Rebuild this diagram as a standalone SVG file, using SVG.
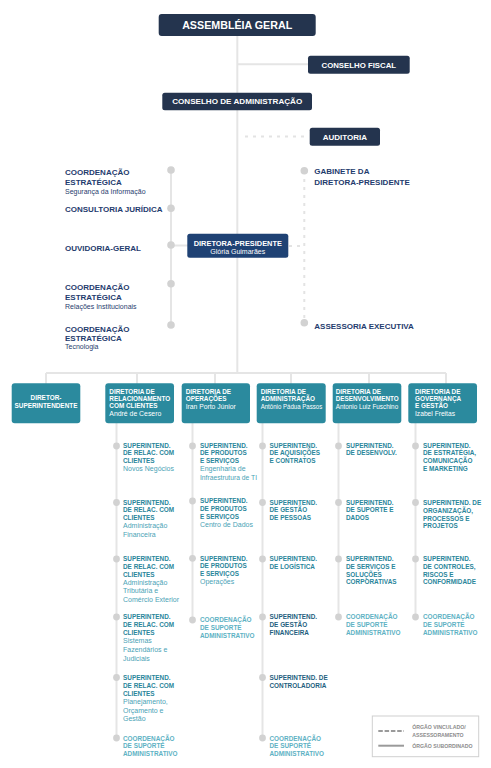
<svg xmlns="http://www.w3.org/2000/svg" width="491" height="768" viewBox="0 0 491 768">
<style>
text{font-family:"Liberation Sans",Arial,sans-serif}
.ln{stroke:#e5e5e5;stroke-width:2;fill:none}
.dash{stroke:#e3e3e3;stroke-width:2;fill:none;stroke-dasharray:3 5}
.dot{fill:#d2d2d2}
.nv{fill:#24344e}
.dp{fill:#1f4274}
.tl{fill:#2b8a9e}
.wt{fill:#fff;font-weight:bold}
.wn{fill:#fff;font-size:7px}
.st{fill:#1f3c6e;font-weight:bold;font-size:8px}
.sts{fill:#1f3c6e;font-size:7px}
.db{fill:#fff;font-weight:bold;font-size:6.4px}
.dn{fill:#fff;font-size:7px}
.it{fill:#2a869b;font-weight:bold;font-size:6.4px}
.it2{fill:#1f5f80;font-weight:bold;font-size:6.4px}
.co{fill:#5eb2c4;font-weight:bold;font-size:6.4px}
.s{fill:#4aa3b6;font-weight:normal;font-size:7px}
.lg{fill:#8c8c8c;font-weight:bold;font-size:5.2px}
</style>

<g id="connectors">
  <line class="ln" x1="237.3" y1="36" x2="237.3" y2="373"/>
  <line class="ln" x1="237.3" y1="64.3" x2="308" y2="64.3"/>
  <line class="dash" x1="245" y1="136.5" x2="309" y2="136.5"/>
  <line class="ln" x1="171" y1="170" x2="171" y2="325"/>
  <line class="ln" x1="171" y1="245.5" x2="188" y2="245.5"/>
  <line class="dash" x1="304.3" y1="171" x2="304.3" y2="323"/>
  <line class="dash" x1="289" y1="246" x2="304" y2="246"/>
  <line class="ln" x1="46" y1="373" x2="446" y2="373"/>
  <line class="ln" x1="46" y1="373" x2="46" y2="384"/>
  <line class="ln" x1="137" y1="373" x2="137" y2="384"/>
  <line class="ln" x1="215" y1="373" x2="215" y2="384"/>
  <line class="ln" x1="291" y1="373" x2="291" y2="384"/>
  <line class="ln" x1="369" y1="373" x2="369" y2="384"/>
  <line class="ln" x1="446" y1="373" x2="446" y2="384"/>
  <line class="ln" x1="116.5" y1="423" x2="116.5" y2="740"/>
  <line class="ln" x1="192.5" y1="423" x2="192.5" y2="620"/>
  <line class="ln" x1="262.5" y1="423" x2="262.5" y2="740"/>
  <line class="ln" x1="338.5" y1="423" x2="338.5" y2="617"/>
  <line class="ln" x1="415.5" y1="423" x2="415.5" y2="617"/>
</g>

<g id="assembleia">
  <rect class="nv" x="158.7" y="14" width="157" height="22" rx="3"/>
  <text class="wt" x="237.2" y="29" font-size="10.7" text-anchor="middle">ASSEMBLÉIA GERAL</text>
</g>
<g id="conselho-fiscal">
  <rect class="nv" x="308" y="55.7" width="101.7" height="18" rx="2.5"/>
  <text class="wt" x="358.8" y="68.3" font-size="7.8" text-anchor="middle">CONSELHO FISCAL</text>
</g>
<g id="conselho-adm">
  <rect class="nv" x="162.3" y="92.7" width="149.7" height="17.5" rx="2.5"/>
  <text class="wt" x="237.2" y="104.3" font-size="8.1" text-anchor="middle">CONSELHO DE ADMINISTRAÇÃO</text>
</g>
<g id="auditoria">
  <rect class="nv" x="309.7" y="127.7" width="70.3" height="18" rx="2.5"/>
  <text class="wt" x="344.8" y="139.7" font-size="8" text-anchor="middle">AUDITORIA</text>
</g>

<g id="staff-left">
  <circle class="dot" cx="171" cy="170" r="3.8"/>
  <circle class="dot" cx="171" cy="208.3" r="3.8"/>
  <circle class="dot" cx="171" cy="245" r="3.8"/>
  <circle class="dot" cx="171" cy="283.7" r="3.8"/>
  <circle class="dot" cx="171" cy="325" r="3.8"/>
  <text x="65" y="175.3"><tspan class="st" x="65">COORDENAÇÃO</tspan><tspan class="st" x="65" y="185">ESTRATÉGICA</tspan><tspan class="sts" x="65" y="193.8">Segurança da Informação</tspan></text>
  <text class="st" x="65" y="211.7">CONSULTORIA JURÍDICA</text>
  <text class="st" x="65" y="250.7">OUVIDORIA-GERAL</text>
  <text x="65" y="290"><tspan class="st" x="65">COORDENAÇÃO</tspan><tspan class="st" x="65" y="300">ESTRATÉGICA</tspan><tspan class="sts" x="65" y="309.3">Relações Institucionais</tspan></text>
  <text x="65" y="331.7"><tspan class="st" x="65">COORDENAÇÃO</tspan><tspan class="st" x="65" y="340.7">ESTRATÉGICA</tspan><tspan class="sts" x="65" y="349.3">Tecnologia</tspan></text>
</g>

<g id="staff-right">
  <circle class="dot" cx="304.3" cy="170.7" r="3.8"/>
  <circle class="dot" cx="304.3" cy="322.7" r="3.8"/>
  <text x="314.3" y="174.3"><tspan class="st" x="314.3">GABINETE DA</tspan><tspan class="st" x="314.3" y="185">DIRETORA-PRESIDENTE</tspan></text>
  <text class="st" x="314.3" y="329">ASSESSORIA EXECUTIVA</text>
</g>

<g id="diretora-presidente">
  <rect class="dp" x="187.3" y="233.7" width="101" height="24" rx="2.5"/>
  <text class="wt" x="237.8" y="246" font-size="7.4" text-anchor="middle">DIRETORA-PRESIDENTE</text>
  <text class="wn" x="237.8" y="254.2" text-anchor="middle">Glória Guimarães</text>
</g>

<g id="dir-superintendente">
  <rect class="tl" x="11.7" y="383.3" width="68.6" height="40" rx="3"/>
  <text class="db" x="46" y="400" text-anchor="middle">DIRETOR-</text>
  <text class="db" x="46" y="407.7" text-anchor="middle">SUPERINTENDENTE</text>
</g>
<g id="dir-relacionamento">
  <rect class="tl" x="105.3" y="383.3" width="68.7" height="40" rx="3"/>
  <text class="db" x="109.3" y="394">DIRETORIA DE</text>
  <text class="db" x="109.3" y="400.8">RELACIONAMENTO</text>
  <text class="db" x="109.3" y="407.6">COM CLIENTES</text>
  <text class="dn" x="109.3" y="415.7" textLength="52" lengthAdjust="spacingAndGlyphs">André de Cesero</text>
</g>
<g id="dir-operacoes">
  <rect class="tl" x="181.7" y="383.3" width="68.3" height="40" rx="3"/>
  <text class="db" x="185.7" y="394">DIRETORIA DE</text>
  <text class="db" x="185.7" y="400.8">OPERAÇÕES</text>
  <text class="dn" x="185.7" y="409.3" textLength="50" lengthAdjust="spacingAndGlyphs">Iran Porto Júnior</text>
</g>
<g id="dir-administracao">
  <rect class="tl" x="256.7" y="383.3" width="69" height="40" rx="3"/>
  <text class="db" x="260.7" y="394">DIRETORIA DE</text>
  <text class="db" x="260.7" y="400.8">ADMINISTRAÇÃO</text>
  <text class="dn" x="260.7" y="409.3" textLength="61.5" lengthAdjust="spacingAndGlyphs">Antônio Pádua Passos</text>
</g>
<g id="dir-desenvolvimento">
  <rect class="tl" x="332.7" y="383.3" width="68.6" height="40" rx="3"/>
  <text class="db" x="335.7" y="394">DIRETORIA DE</text>
  <text class="db" x="335.7" y="400.8" textLength="63" lengthAdjust="spacingAndGlyphs">DESENVOLVIMENTO</text>
  <text class="dn" x="335.7" y="409.3" textLength="62.5" lengthAdjust="spacingAndGlyphs">Antonio Luiz Fuschino</text>
</g>
<g id="dir-governanca">
  <rect class="tl" x="408.3" y="383.3" width="68.7" height="40" rx="3"/>
  <text class="db" x="415" y="394">DIRETORIA DE</text>
  <text class="db" x="415" y="400.8">GOVERNANÇA</text>
  <text class="db" x="415" y="407.6">E GESTÃO</text>
  <text class="dn" x="415" y="415.7" textLength="40" lengthAdjust="spacingAndGlyphs">Izabel Freitas</text>
</g>

<g id="col-relacionamento">
  <circle class="dot" cx="116.5" cy="446" r="3.4"/>
  <circle class="dot" cx="116.5" cy="502.5" r="3.4"/>
  <circle class="dot" cx="116.5" cy="559" r="3.4"/>
  <circle class="dot" cx="116.5" cy="617" r="3.4"/>
  <circle class="dot" cx="116.5" cy="677.5" r="3.4"/>
  <circle class="dot" cx="116.5" cy="738" r="3.4"/>
  <text class="it" x="123" y="447.5"><tspan x="123">SUPERINTEND.</tspan><tspan x="123" dy="7.8">DE RELAC. COM</tspan><tspan x="123" dy="7.8">CLIENTES</tspan><tspan class="s" x="123" dy="8.3">Novos Negócios</tspan></text>
  <text class="it" x="123" y="504.5"><tspan x="123">SUPERINTEND.</tspan><tspan x="123" dy="7.8">DE RELAC. COM</tspan><tspan x="123" dy="7.8">CLIENTES</tspan><tspan class="s" x="123" dy="8.3">Administração</tspan><tspan class="s" x="123" dy="8.5">Financeira</tspan></text>
  <text class="it" x="123" y="561"><tspan x="123">SUPERINTEND.</tspan><tspan x="123" dy="7.8">DE RELAC. COM</tspan><tspan x="123" dy="7.8">CLIENTES</tspan><tspan class="s" x="123" dy="8.3">Administração</tspan><tspan class="s" x="123" dy="8.5">Tributária e</tspan><tspan class="s" x="123" dy="8.5">Comércio Exterior</tspan></text>
  <text class="it" x="123" y="619.3"><tspan x="123">SUPERINTEND.</tspan><tspan x="123" dy="7.8">DE RELAC. COM</tspan><tspan x="123" dy="7.8">CLIENTES</tspan><tspan class="s" x="123" dy="8.3">Sistemas</tspan><tspan class="s" x="123" dy="8.7">Fazendários e</tspan><tspan class="s" x="123" dy="8.7">Judiciais</tspan></text>
  <text class="it" x="123" y="680"><tspan x="123">SUPERINTEND.</tspan><tspan x="123" dy="7.8">DE RELAC. COM</tspan><tspan x="123" dy="7.8">CLIENTES</tspan><tspan class="s" x="123" dy="8.3">Planejamento,</tspan><tspan class="s" x="123" dy="8.7">Orçamento e</tspan><tspan class="s" x="123" dy="8.7">Gestão</tspan></text>
  <text class="co" x="123" y="740.5"><tspan x="123">COORDENAÇÃO</tspan><tspan x="123" dy="7.8">DE SUPORTE</tspan><tspan x="123" dy="7.8">ADMINISTRATIVO</tspan></text>
</g>

<g id="col-operacoes">
  <circle class="dot" cx="192.5" cy="446" r="3.4"/>
  <circle class="dot" cx="192.5" cy="501" r="3.4"/>
  <circle class="dot" cx="192.5" cy="558.3" r="3.4"/>
  <circle class="dot" cx="192.5" cy="620" r="3.4"/>
  <text class="it" x="200" y="447.5"><tspan x="200">SUPERINTEND.</tspan><tspan x="200" dy="7.8">DE PRODUTOS</tspan><tspan x="200" dy="7.8">E SERVIÇOS</tspan><tspan class="s" x="200" dy="8.3">Engenharia de</tspan><tspan class="s" x="200" dy="8.7" textLength="57" lengthAdjust="spacingAndGlyphs">Infraestrutura de TI</tspan></text>
  <text class="it" x="200" y="503.3"><tspan x="200">SUPERINTEND.</tspan><tspan x="200" dy="7.8">DE PRODUTOS</tspan><tspan x="200" dy="7.8">E SERVIÇOS</tspan><tspan class="s" x="200" dy="8.3">Centro de Dados</tspan></text>
  <text class="it" x="200" y="560.5"><tspan x="200">SUPERINTEND.</tspan><tspan x="200" dy="7.8">DE PRODUTOS</tspan><tspan x="200" dy="7.8">E SERVIÇOS</tspan><tspan class="s" x="200" dy="8.3">Operações</tspan></text>
  <text class="co" x="200" y="622.3"><tspan x="200">COORDENAÇÃO</tspan><tspan x="200" dy="7.8">DE SUPORTE</tspan><tspan x="200" dy="7.8">ADMINISTRATIVO</tspan></text>
</g>

<g id="col-administracao">
  <circle class="dot" cx="262.5" cy="446" r="3.4"/>
  <circle class="dot" cx="262.5" cy="502.5" r="3.4"/>
  <circle class="dot" cx="262.5" cy="559" r="3.4"/>
  <circle class="dot" cx="262.5" cy="617" r="3.4"/>
  <circle class="dot" cx="262.5" cy="677.5" r="3.4"/>
  <circle class="dot" cx="262.5" cy="738" r="3.4"/>
  <text class="it" x="269.5" y="447.5"><tspan x="269.5">SUPERINTEND.</tspan><tspan x="269.5" dy="7.8">DE AQUISIÇÕES</tspan><tspan x="269.5" dy="7.8">E CONTRATOS</tspan></text>
  <text class="it" x="269.5" y="504.5"><tspan x="269.5">SUPERINTEND.</tspan><tspan x="269.5" dy="7.8">DE GESTÃO</tspan><tspan x="269.5" dy="7.8">DE PESSOAS</tspan></text>
  <text class="it" x="269.5" y="561"><tspan x="269.5">SUPERINTEND.</tspan><tspan x="269.5" dy="7.8">DE LOGÍSTICA</tspan></text>
  <text class="it2" x="269.5" y="619.3"><tspan x="269.5">SUPERINTEND.</tspan><tspan x="269.5" dy="7.8">DE GESTÃO</tspan><tspan x="269.5" dy="7.8">FINANCEIRA</tspan></text>
  <text class="it2" x="269.5" y="680"><tspan x="269.5">SUPERINTEND. DE</tspan><tspan x="269.5" dy="7.8">CONTROLADORIA</tspan></text>
  <text class="co" x="269.5" y="740.5"><tspan x="269.5">COORDENAÇÃO</tspan><tspan x="269.5" dy="7.8">DE SUPORTE</tspan><tspan x="269.5" dy="7.8">ADMINISTRATIVO</tspan></text>
</g>

<g id="col-desenvolvimento">
  <circle class="dot" cx="338.5" cy="446" r="3.4"/>
  <circle class="dot" cx="338.5" cy="502.5" r="3.4"/>
  <circle class="dot" cx="338.5" cy="559" r="3.4"/>
  <circle class="dot" cx="338.5" cy="617" r="3.4"/>
  <text class="it" x="346" y="447.5"><tspan x="346">SUPERINTEND.</tspan><tspan x="346" dy="7.8">DE DESENVOLV.</tspan></text>
  <text class="it" x="346" y="504.5"><tspan x="346">SUPERINTEND.</tspan><tspan x="346" dy="7.8">DE SUPORTE E</tspan><tspan x="346" dy="7.8">DADOS</tspan></text>
  <text class="it" x="346" y="561"><tspan x="346">SUPERINTEND.</tspan><tspan x="346" dy="7.8">DE SERVIÇOS E</tspan><tspan x="346" dy="7.8">SOLUÇÕES</tspan><tspan x="346" dy="7.8">CORPORATIVAS</tspan></text>
  <text class="co" x="346" y="619.3"><tspan x="346">COORDENAÇÃO</tspan><tspan x="346" dy="7.8">DE SUPORTE</tspan><tspan x="346" dy="7.8">ADMINISTRATIVO</tspan></text>
</g>

<g id="col-governanca">
  <circle class="dot" cx="415.5" cy="446" r="3.4"/>
  <circle class="dot" cx="415.5" cy="502.5" r="3.4"/>
  <circle class="dot" cx="415.5" cy="559" r="3.4"/>
  <circle class="dot" cx="415.5" cy="617" r="3.4"/>
  <text class="it" x="423" y="447.5"><tspan x="423">SUPERINTEND.</tspan><tspan x="423" dy="7.8">DE ESTRATÉGIA,</tspan><tspan x="423" dy="7.8">COMUNICAÇÃO</tspan><tspan x="423" dy="7.8">E MARKETING</tspan></text>
  <text class="it" x="423" y="504.5"><tspan x="423">SUPERINTEND. DE</tspan><tspan x="423" dy="8.3">ORGANIZAÇÃO,</tspan><tspan x="423" dy="7.8">PROCESSOS E</tspan><tspan x="423" dy="7.8">PROJETOS</tspan></text>
  <text class="it" x="423" y="561"><tspan x="423">SUPERINTEND.</tspan><tspan x="423" dy="7.8">DE CONTROLES,</tspan><tspan x="423" dy="7.8">RISCOS E</tspan><tspan x="423" dy="7.8">CONFORMIDADE</tspan></text>
  <text class="co" x="423" y="619.3"><tspan x="423">COORDENAÇÃO</tspan><tspan x="423" dy="7.8">DE SUPORTE</tspan><tspan x="423" dy="7.8">ADMINISTRATIVO</tspan></text>
</g>

<g id="legend">
  <rect x="372.3" y="716" width="106.4" height="40.7" fill="#fff" stroke="#d0d0d0" stroke-width="1"/>
  <line x1="378.3" y1="731" x2="404" y2="731" stroke="#9a9a9a" stroke-width="2" stroke-dasharray="4.5 1.8"/>
  <line x1="378.3" y1="745.7" x2="404" y2="745.7" stroke="#9a9a9a" stroke-width="2"/>
  <text class="lg" x="412.3" y="729.3">ÓRGÃO VINCULADO/</text>
  <text class="lg" x="412.3" y="736.7">ASSESSORAMENTO</text>
  <text class="lg" x="412.3" y="747.5">ÓRGÃO SUBORDINADO</text>
</g>
</svg>
